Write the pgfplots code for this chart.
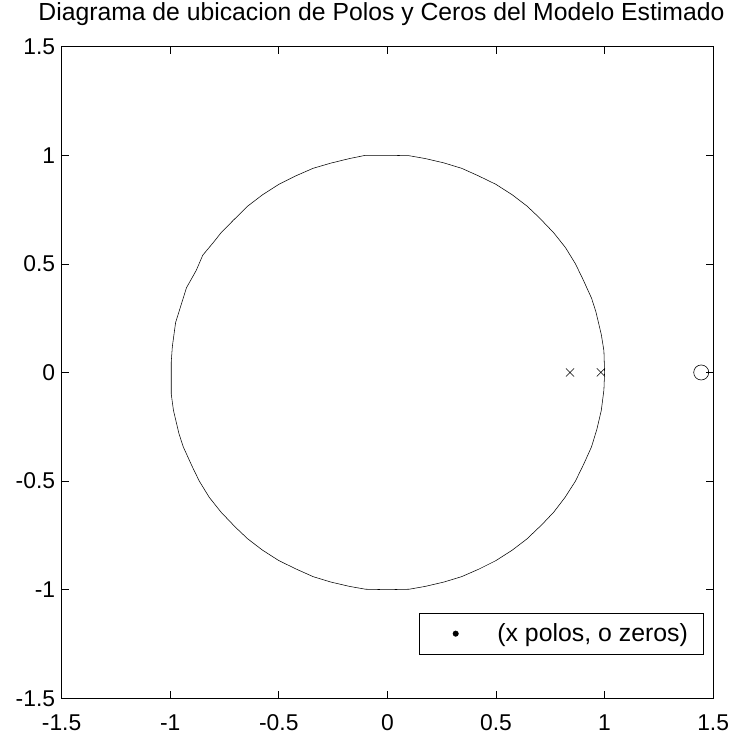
\documentclass[border=0pt]{standalone}
\usepackage{pgfplots}
\pgfplotsset{compat=1.18}
\usepackage{fontspec}
\setmainfont{Liberation Sans}
\begin{document}
\begin{tikzpicture}
\begin{axis}[
  name=ax,
  width=656bp, height=656bp, scale only axis=true,
  xmin=-1.5, xmax=1.5, ymin=-1.5, ymax=1.5,
  xtick={-1.5,-1,-0.5,0,0.5,1,1.5},
  ytick={-1.5,-1,-0.5,0,0.5,1,1.5},
  xticklabels={-1.5,-1,-0.5,0,0.5,1,1.5},
  yticklabels={-1.5,-1,-0.5,0,0.5,1,1.5},
  tick align=inside, major tick length=7bp,
  tick style={black, line width=0.6pt},
  axis line style={line width=0.9pt},
  ticklabel style={font=\fontsize{23bp}{25bp}\selectfont},
  xticklabel style={inner sep=1bp, yshift=-15bp},
  yticklabel style={xshift=-3bp},
  title={Diagrama de ubicacion de Polos y Ceros del Modelo Estimado},
  title style={at={(0.5,1)}, anchor=base, yshift=20bp, xshift=-6bp, inner sep=0pt,
    font=\fontsize{24.9bp}{26bp}\selectfont},
  legend style={at={(0.986,0.067)}, anchor=south east, draw=black, line width=0.6pt,
    font=\fontsize{25bp}{27bp}\selectfont, inner xsep=14bp, inner ysep=9bp},
  legend image code/.code={%
    \path[draw=none, fill=none] (0bp,0bp) -- (63bp,0bp);
    \fill[black] (23bp,0bp) circle (2.7bp);},
  legend cell align=left,
]
% unit circle, drawn as a coarse polygon
\addplot[black, line width=0.55pt, forget plot] coordinates {
(1.000,0.000) (0.997,0.100) (0.985,0.174) (0.960,0.280) (0.940,0.342)
(0.900,0.430) (0.866,0.500) (0.820,0.575) (0.766,0.643) (0.700,0.712)
(0.643,0.766) (0.575,0.818) (0.500,0.866) (0.420,0.905) (0.342,0.940)
(0.260,0.965) (0.174,0.985) (0.100,0.998) (0.000,1.000) (-0.100,1.000)
(-0.174,0.985) (-0.260,0.964) (-0.342,0.940) (-0.420,0.906) (-0.500,0.866)
(-0.575,0.818) (-0.643,0.766) (-0.710,0.700) (-0.766,0.643) (-0.800,0.600)
(-0.850,0.540) (-0.880,0.470) (-0.925,0.390) (-0.950,0.310) (-0.975,0.230)
(-0.990,0.120) (-0.995,0.050) (-0.995,-0.100) (-0.985,-0.174) (-0.960,-0.280)
(-0.940,-0.342) (-0.900,-0.430) (-0.866,-0.500) (-0.820,-0.575) (-0.766,-0.643)
(-0.700,-0.712) (-0.643,-0.766) (-0.575,-0.818) (-0.500,-0.866) (-0.420,-0.905)
(-0.342,-0.940) (-0.260,-0.965) (-0.174,-0.985) (-0.100,-0.998) (0.000,-1.000)
(0.100,-0.998) (0.174,-0.985) (0.260,-0.965) (0.342,-0.940) (0.420,-0.906)
(0.500,-0.866) (0.575,-0.818) (0.643,-0.766) (0.712,-0.700) (0.766,-0.643)
(0.818,-0.575) (0.866,-0.500) (0.905,-0.420) (0.940,-0.342) (0.965,-0.260)
(0.985,-0.174) (0.997,-0.080) (1.000,0.000)
};
% legend entry: a single dot
\addplot[only marks, mark=*, mark size=2.7pt, black] coordinates {(5,5)};
\addlegendentry{(x polos, o zeros)}
% poles
\addplot[only marks, mark=x, mark size=5.8pt, black, line width=0.55pt, forget plot]
  coordinates {(0.841,0) (0.983,0)};
% zero
\addplot[only marks, mark=o, mark size=7.6pt, black, line width=0.6pt, forget plot]
  coordinates {(1.445,0)};
\end{axis}
% fixed page frame around the axis
\pgfresetboundingbox
\path ([shift={(-62bp,-40bp)}]ax.south west) rectangle ([shift={(20bp,47bp)}]ax.north east);
\end{tikzpicture}
\end{document}
